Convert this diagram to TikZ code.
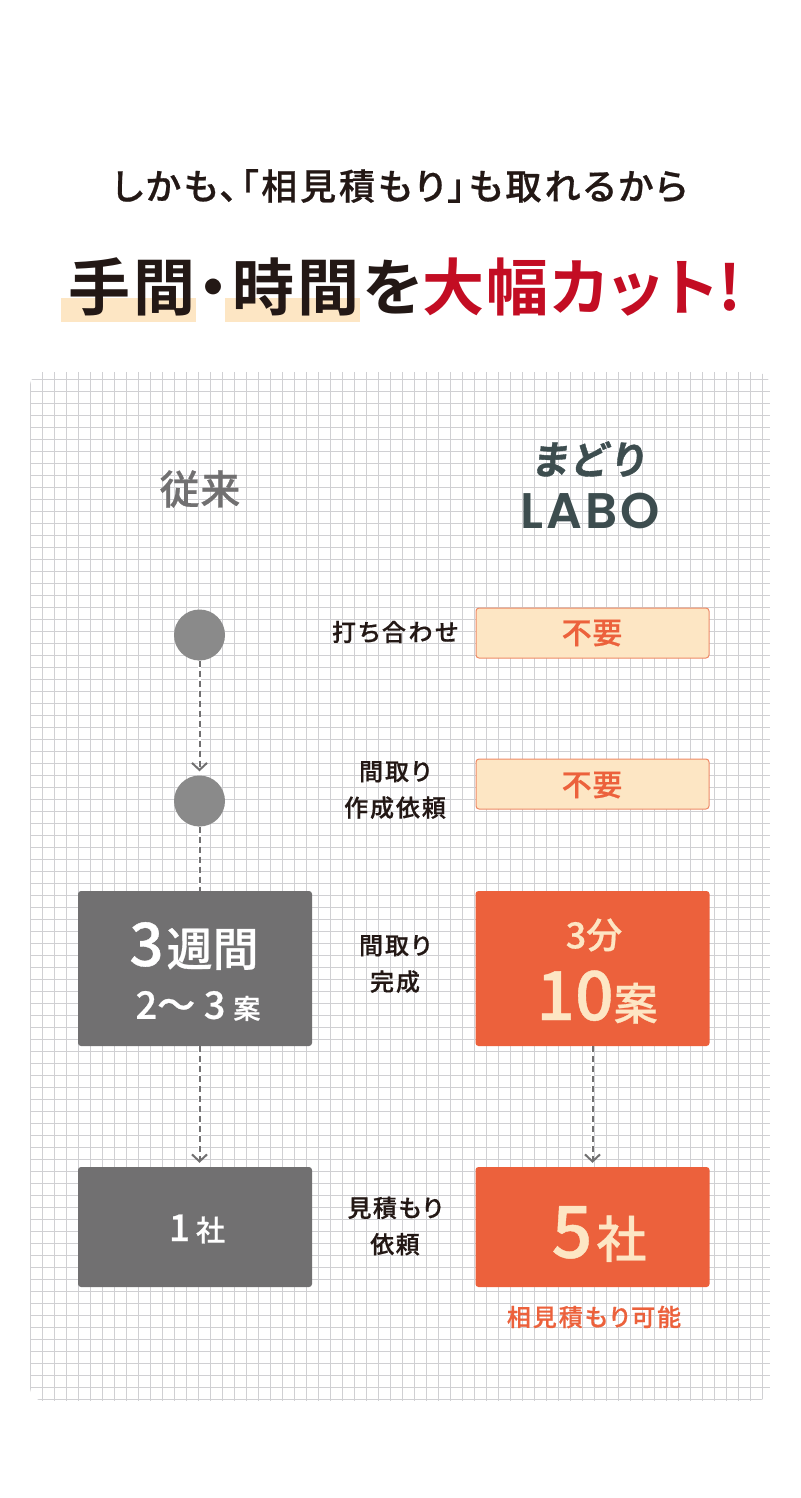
\documentclass[tikz,border=0pt]{standalone}
\usepackage{fontspec}
\usepackage{tikz}
\usetikzlibrary{arrows.meta}
\setmainfont{Noto Sans CJK JP}[RawFeature=+palt,BoldFont={Noto Sans CJK JP Medium},BoldFeatures={FakeBold=0.6}]
\newfontfamily\titlefont{Noto Sans CJK JP Bold}[RawFeature=+palt]
\newfontfamily\logofont{Poppins SemiBold}[LetterSpace=6]
\newfontfamily\logokana{Noto Sans CJK JP Bold}[FakeSlant=0.12,FakeBold=1]
\definecolor{inkblack}{HTML}{231815}
\definecolor{inkred}{HTML}{C30D23}
\definecolor{palebox}{HTML}{FDE6C4}
\definecolor{paleline}{HTML}{EE8A66}
\definecolor{orangebox}{HTML}{EC613C}
\definecolor{graybox}{HTML}{717071}
\definecolor{graydot}{HTML}{8A8A8A}
\definecolor{gridline}{HTML}{D0D0D3}
\definecolor{logoink}{HTML}{3D4D4F}
\newcommand{\fs}[1]{\fontsize{#1}{#1}\selectfont}
\newcommand{\lsp}[1]{\addfontfeature{LetterSpace=#1}}
\begin{document}
\begin{tikzpicture}[x=1pt,y=-1pt]
	\tikzstyle{txt}=[inner sep=0pt,font=\bfseries]
	\tikzstyle{dot}=[circle,fill=graydot,minimum size=51pt,inner sep=0pt]
	\tikzstyle{gbox}=[rectangle,rounded corners=3pt,fill=graybox,inner sep=0pt,text=white]
	\tikzstyle{obox}=[rectangle,rounded corners=3pt,fill=orangebox,inner sep=0pt,text=palebox]
	\tikzstyle{pbox}=[rectangle,rounded corners=3pt,fill=palebox,draw=paleline,line width=1pt,inner sep=0pt]
	\tikzstyle{under}=[white,line width=3pt]
	\tikzstyle{dashline}=[graybox,line width=2pt,dash pattern=on 6pt off 4pt]
	\tikzstyle{arr}=[-{Straight Barb[length=7pt,width=15pt,line width=2pt]},shorten >=4pt]
	\useasboundingbox (0,0) rectangle (800,1498);
	\fill[white] (0,0) rectangle (800,1498);
	% grid
	\begin{scope}
		\clip[rounded corners=14pt] (30,372) rectangle (770,1401);
		\foreach \x in {0,...,61} \draw[gridline,line width=1pt] (30.5+12*\x,372) -- (30.5+12*\x,1401);
		\foreach \y in {0,...,85} \draw[gridline,line width=1pt] (30,379.5+12*\y) -- (770,379.5+12*\y);
	\end{scope}
	% title
	\node[txt,text=inkblack] (t1) at (400,186) {\fs{36}\lsp{8}しかも、「相見積もり」も取れるから};
	\fill[palebox] (61,298) rectangle (196,322);
	\fill[palebox] (225,298) rectangle (360,322);
	\node[inner sep=0pt,text=inkblack,anchor=west] (t2) at (68,287) {\fs{62}\titlefont\lsp{5}手間・時間を};
	\node[inner sep=0pt,text=inkred,anchor=east] (t3) at (742,287) {\fs{62}\titlefont\lsp{3.5}大幅カット!};
	% heads
	\node[txt,text=graybox] (h1) at (200,489) {\fs{40}\lsp{2}従来};
	\node[inner sep=0pt,text=logoink] (h2) at (589,459) {\fs{39}\logokana まどり};
	\node[inner sep=0pt,text=logoink] (h3) at (590,511) {\fs{50}\logofont LABO};
	% left column
	\node[dot] (1) at (199.5,635) {};
	\node[dot] (2) at (199.5,801) {};
	\node[gbox,minimum width=234pt,minimum height=155pt] (3) at (195,968.5) {};
	\node[gbox,minimum width=234pt,minimum height=120pt] (4) at (195,1227) {};
	\node[txt,text=white] (3a) at (194,946) {\fs{60}3\hspace{3pt}\fs{46}週間};
	\node[txt,text=white] (3b) at (198,1006) {\fs{38}2〜 3\hspace{8pt}\fs{27}案};
	\node[txt,text=white] (4a) at (197,1229) {\fs{37}1\hspace{6pt}\fs{29}社};
	% right column
	\node[pbox,minimum width=233pt,minimum height=50pt] (5) at (592.5,633) {};
	\node[pbox,minimum width=233pt,minimum height=50pt] (6) at (592.5,784) {};
	\node[obox,minimum width=234pt,minimum height=155pt] (7) at (592.5,968.5) {};
	\node[obox,minimum width=234pt,minimum height=120pt] (8) at (592.5,1227) {};
	\node[txt,text=orangebox] (5a) at (592,633) {\fs{30}\lsp{2}不要};
	\node[txt,text=orangebox] (6a) at (592,785) {\fs{30}\lsp{2}不要};
	\node[txt,text=palebox] (7a) at (594,935) {\fs{36}3分};
	\node[txt,text=palebox] (7b) at (597,997) {\fs{68}10\fs{44}案};
	\node[txt,text=palebox] (8a) at (599,1234) {\fs{72}5\hspace{4pt}\fs{50}社};
	\node[txt,text=orangebox] (8b) at (594,1317) {\fs{24}\lsp{8}相見積もり可能};
	% middle labels
	\node[txt,text=inkblack] (m1) at (395,632) {\fs{24}\lsp{10}打ち合わせ};
	\node[txt,text=inkblack,align=center] (m2) at (395,790) {\fs{24}\lsp{8}間取り\\[13pt]\fs{24}\lsp{8}作成依頼};
	\node[txt,text=inkblack,align=center] (m3) at (395,964) {\fs{24}\lsp{8}間取り\\[13pt]\fs{24}\lsp{8}完成};
	\node[txt,text=inkblack,align=center] (m4) at (395,1226) {\fs{24}\lsp{6}見積もり\\[13pt]\fs{24}\lsp{6}依頼};
	% connectors
	\draw[under] (1) -- (2);
	\draw[dashline,arr] (1) -- (2);
	\draw[under] (2) -- (2 |- 3.north);
	\draw[dashline] (2) -- (2 |- 3.north);
	\draw[under] (1 |- 3.south) -- (1 |- 4.north);
	\draw[dashline,arr] (1 |- 3.south) -- (1 |- 4.north);
	\draw[under] (7) -- (8);
	\draw[dashline,arr] (7) -- (8);
\end{tikzpicture}
\end{document}
